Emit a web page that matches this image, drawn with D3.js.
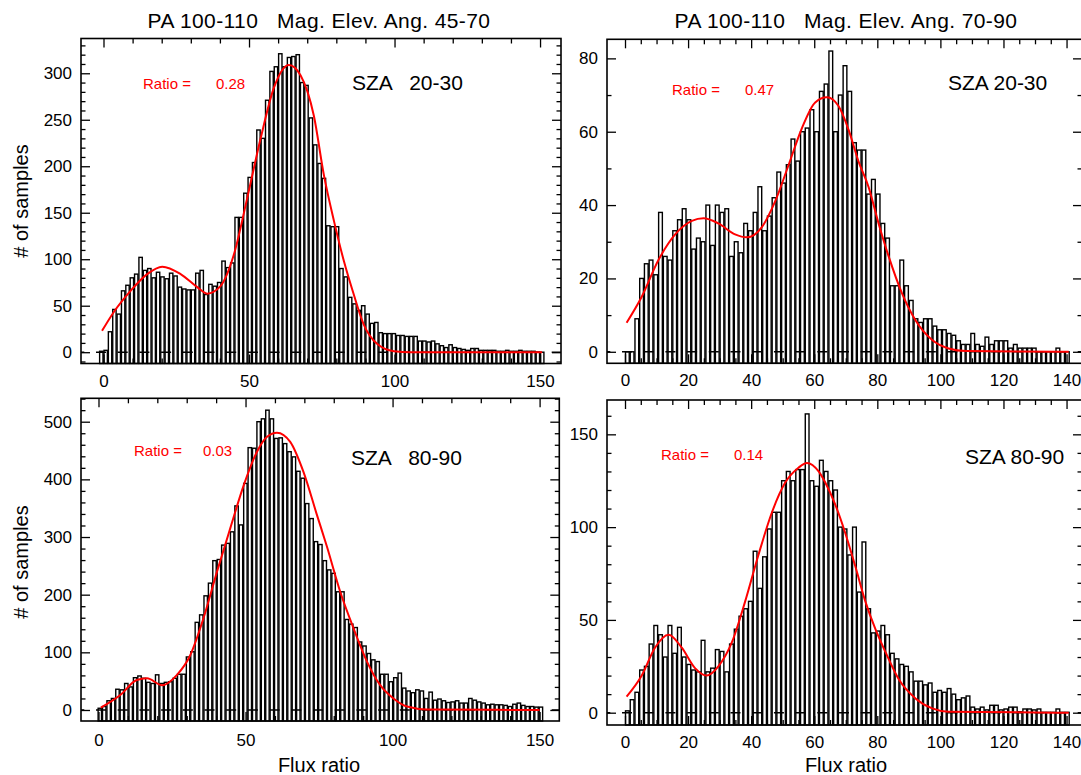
<!DOCTYPE html>
<html>
<head>
<meta charset="utf-8">
<title>Flux ratio histograms</title>
<script src="https://d3js.org/d3.v7.min.js"></script>
<style>
  body { margin: 0; background: #fff; font-family: "Liberation Sans", Arial, Helvetica, sans-serif; }
  .tick text { font-size: 17px; fill: #000; font-family: "Liberation Sans", Arial, sans-serif; }
  .tick line { stroke: #000; stroke-width: 1.3; }
  .bar { fill: #fff; stroke: #000; stroke-width: 1.4; }
  .fit { fill: none; stroke: #f00; stroke-width: 2; }
  .zero { stroke: #000; stroke-width: 1.5; stroke-dasharray: 10, 11.7; }
  .frame { fill: none; stroke: #000; stroke-width: 1.6; }
</style>
</head>
<body>
<svg id="chart" width="1081" height="775"></svg>
<script>
// histogram bin width (flux ratio units)
var binWidth = 1.5;

// top-left: PA 100-110, Mag. Elev. Ang. 45-70, SZA 20-30
var tlStart = -1.5;
var tlCounts = [1, 2, 22, 46, 41, 66, 72, 80, 84, 102,
  88, 90, 80, 86, 81, 79, 85, 82, 70, 68,
  67, 67, 85, 88, 62, 73, 71, 75, 98, 91,
  96, 145, 145, 171, 188, 204, 239, 230, 271, 302,
  307, 321, 307, 317, 318, 320, 290, 287, 252, 223,
  203, 187, 136, 135, 135, 90, 81, 59, 52, 45,
  50, 41, 31, 32, 21, 20, 20, 20, 18, 18,
  17, 17, 17, 12, 12, 11, 12, 9, 7, 5,
  8, 5, 4, 3, 2, 4, 4, 2, 2, 2,
  2, 1, 1, 2, 1, 1, 2, 1, 1, 1,
  0, 0];
var tlFitX = [-0.5, 3.5, 9.3, 15, 20.2, 26.5, 32.2, 35.6, 40.2, 44.8, 49.4, 54, 58.5, 63.7, 67.7, 72.3, 75.7, 79.2, 82.6, 86, 89.4, 94, 99.8, 105.5, 150.7];
var tlFitY = [23, 43, 66, 84, 92, 84, 70, 63, 71, 105, 166, 230, 284, 309, 298, 254, 191, 141, 98, 62, 30, 9, 1, 0, 0];

// top-right: Mag. Elev. Ang. 70-90, SZA 20-30
var trStart = 0;
var trCounts = [0, 0, 9, 20, 24, 25, 21, 38, 26, 25,
  33, 36, 39, 36, 28, 31, 30, 40, 29, 40,
  38, 39, 26, 30, 27, 35, 33, 38, 45, 33,
  37, 42, 49, 46, 51, 58, 52, 60, 61, 66,
  60, 71, 73, 82, 60, 70, 78, 71, 57, 55,
  55, 43, 47, 43, 35, 31, 18, 18, 25, 18,
  14, 9, 8, 9, 9, 7, 6, 6, 5, 4.5,
  3, 2, 2, 5, 2, 1.5, 4, 2, 3, 3,
  3, 1, 2, 1, 1, 1, 1, 0, 0, 0,
  0, 1, 0, 0];
var trFitX = [0.5, 5.3, 10.6, 15.9, 21.2, 24.9, 29.6, 34.9, 38.6, 43.4, 47.6, 51.9, 56.1, 60.3, 64, 67.7, 70.9, 74, 77.2, 80.4, 83.6, 87.8, 92.1, 97.4, 102.6, 108, 140.7];
var trFitY = [7.9, 15, 25, 32, 35.7, 36.4, 35, 32, 31.2, 34, 41, 51, 61, 68, 69.4, 67, 60.5, 52, 45, 35, 26, 16, 8.6, 3.2, 0.9, 0.2, 0];

// bottom-left: Mag. Elev. Ang. 45-70, SZA 80-90
var blStart = -0.3;
var blCounts = [3, 6, 16, 20, 36, 35, 46, 40, 56, 59,
  55, 48, 46, 61, 46, 48, 49, 55, 62, 62,
  92, 101, 152, 165, 198, 220, 259, 261, 286, 289,
  309, 354, 321, 393, 455, 454, 500, 505, 520, 505,
  471, 472, 462, 448, 439, 414, 402, 358, 332, 292,
  287, 259, 243, 237, 205, 205, 157, 149, 143, 118,
  111, 98, 87, 84, 62, 62, 49, 56, 64, 38,
  33, 30, 35, 33, 20, 31, 17, 19, 16, 13,
  14, 16, 12, 12, 20, 17, 14, 12, 9, 10,
  9, 9, 8, 6, 10, 12, 8, 6, 6, 5,
  5];
var blFitX = [0.8, 7.4, 13, 16.5, 21.6, 26.7, 31.2, 35.7, 40.3, 44.8, 49.4, 53.9, 57.3, 60.7, 65.2, 69.7, 74.3, 77.7, 82.2, 86.7, 91.3, 95.8, 100.3, 104.9, 111.7, 150];
var blFitY = [4, 26, 52, 55, 43, 61, 95, 159, 240, 315, 390, 448, 474, 481, 465, 413, 338, 283, 205, 142, 84, 43, 20, 6, 1, 0];

// bottom-right: Mag. Elev. Ang. 70-90, SZA 80-90
var brStart = 0;
var brCounts = [1, 7, 11, 23, 25, 37, 47, 42, 30, 47,
  32, 46, 30, 26, 23, 22, 39, 22, 24, 34,
  33, 22, 37, 45, 52, 56, 60, 87, 67, 84,
  99, 108, 108, 125, 130, 125, 131, 131, 161, 125,
  122, 136, 130, 125, 120, 100, 99, 85, 100, 65,
  92, 56, 43, 44, 47, 42, 32, 29, 26, 25,
  22, 17, 17, 15, 16, 11, 12, 11, 13, 10,
  7, 8, 9, 3, 2, 3, 1.5, 4, 4, 1.5,
  2, 3, 3, 0.5, 2, 2, 1.5, 2, 0.2, 0.2,
  0.2, 2, 0.2, 0.2];
var brFitX = [0.5, 5.3, 9.5, 13.8, 18, 22.2, 25.9, 29.6, 33.9, 38.1, 42.3, 46.6, 50.8, 55, 57.7, 61.4, 63.5, 66.7, 69.8, 73, 76.2, 79.4, 82.5, 86.8, 92.1, 97.4, 102.6, 140.7];
var brFitY = [8.6, 20, 35, 42, 35, 24, 20, 25, 38, 60, 85, 108, 124, 132, 134.6, 130, 124, 112, 97, 79, 60, 45, 33, 18, 7.7, 2.3, 0.5, 0];

var titles = ["PA 100-110   Mag. Elev. Ang. 45-70", "PA 100-110   Mag. Elev. Ang. 70-90"];
var ratios = ["0.28", "0.47", "0.03", "0.14"];
var szaLabels = ["SZA   20-30", "SZA 20-30", "SZA   80-90", "SZA 80-90"];

// layout of the four plot windows
var panels = [
  { counts: tlCounts, start: tlStart, fitX: tlFitX, fitY: tlFitY,
    box: [81, 38.5, 561, 363.5], xDom: [-7.73, 157.2], yDom: [-12.15, 337.4],
    xMajor: 50, xMinor: 10, xMax: 150, yMajor: 50, yMinor: 10, yMax: 330,
    ratio: ratios[0], ratioAt: [143, 216, 89], sza: szaLabels[0], szaAt: [352, 90], xPad: 11 },
  { counts: trCounts, start: trStart, fitX: trFitX, fitY: trFitY,
    box: [607, 39.3, 1082, 363.3], xDom: [-5.71, 144.9], yDom: [-3.14, 85.2],
    xMajor: 20, xMinor: 5, xMax: 145, yMajor: 20, yMinor: 10, yMax: 85,
    ratio: ratios[1], ratioAt: [672, 745, 95], sza: szaLabels[1], szaAt: [948, 90], xPad: 11 },
  { counts: blCounts, start: blStart, fitX: blFitX, fitY: blFitY,
    box: [81, 398.3, 559.3, 721], xDom: [-5.95, 156.7], yDom: [-19.1, 540.6],
    xMajor: 50, xMinor: 10, xMax: 150, yMajor: 100, yMinor: 20, yMax: 540,
    ratio: ratios[2], ratioAt: [134, 203, 456], sza: szaLabels[2], szaAt: [351, 465], xPad: 13 },
  { counts: brCounts, start: brStart, fitX: brFitX, fitY: brFitY,
    box: [607, 400, 1082, 725], xDom: [-5.71, 144.9], yDom: [-6.63, 168.5],
    xMajor: 20, xMinor: 5, xMax: 145, yMajor: 50, yMinor: 10, yMax: 165,
    ratio: ratios[3], ratioAt: [661, 734, 460], sza: szaLabels[3], szaAt: [965, 464], xPad: 11 }
];

var svg = d3.select("#chart");

function stepValues(step, lo, hi) {
  return d3.range(Math.ceil(lo / step) * step, hi + 0.001, step);
}

panels.forEach(function(p) {
  var x = d3.scaleLinear().domain(p.xDom).range([p.box[0], p.box[2]]);
  var y = d3.scaleLinear().domain(p.yDom).range([p.box[3], p.box[1]]);
  var g = svg.append("g");
  var binPx = x(binWidth) - x(0);

  // bars rise from the bottom of the window
  g.selectAll(".bar")
    .data(p.counts)
    .enter().append("rect")
    .attr("class", "bar")
    .attr("x", function(d, i) { return x(p.start + i * binWidth) + 0.5; })
    .attr("width", binPx - 1)
    .attr("y", function(d) { return y(d); })
    .attr("height", function(d) { return p.box[3] - y(d); });

  // dashed zero level
  g.append("line")
    .attr("class", "zero")
    .attr("x1", p.box[0]).attr("x2", p.box[2])
    .attr("y1", y(0)).attr("y2", y(0))
    .attr("stroke-dashoffset", 6.7);

  // fitted curve
  var pts = p.fitX.map(function(v, i) { return [v, p.fitY[i]]; });
  g.append("path")
    .attr("class", "fit")
    .attr("d", d3.line()
      .x(function(d) { return x(d[0]); })
      .y(function(d) { return y(d[1]); })
      .curve(d3.curveMonotoneX)(pts));

  // axes, ticks pointing inward
  var xMaj = stepValues(p.xMajor, 0, p.xMax);
  var xMin = stepValues(p.xMinor, 0, p.xMax).filter(function(v) { return v % p.xMajor !== 0; });
  var yMaj = stepValues(p.yMajor, 0, p.yMax);
  var yMin = stepValues(p.yMinor, p.yDom[0], p.yMax).filter(function(v) { return v % p.yMajor !== 0; });

  function put(axis, tx, ty, labels) {
    var a = g.append("g").attr("transform", "translate(" + tx + "," + ty + ")").call(axis);
    a.select(".domain").remove();
    if (!labels) a.selectAll("text").remove();
    return a;
  }
  put(d3.axisBottom(x).tickValues(xMaj).tickSize(-9).tickPadding(p.xPad).tickFormat(d3.format("d")), 0, p.box[3], true);
  put(d3.axisBottom(x).tickValues(xMin).tickSize(-5), 0, p.box[3], false);
  put(d3.axisTop(x).tickValues(xMaj).tickSize(-9), 0, p.box[1], false);
  put(d3.axisTop(x).tickValues(xMin).tickSize(-5), 0, p.box[1], false);
  put(d3.axisLeft(y).tickValues(yMaj).tickSize(-9).tickPadding(9).tickFormat(d3.format("d")), p.box[0], 0, true);
  put(d3.axisLeft(y).tickValues(yMin).tickSize(-4.5), p.box[0], 0, false);
  put(d3.axisRight(y).tickValues(yMaj).tickSize(-9), p.box[2], 0, false);
  put(d3.axisRight(y).tickValues(yMin).tickSize(-4.5), p.box[2], 0, false);

  g.append("rect")
    .attr("class", "frame")
    .attr("x", p.box[0]).attr("y", p.box[1])
    .attr("width", p.box[2] - p.box[0]).attr("height", p.box[3] - p.box[1]);

  // annotations
  g.append("text")
    .attr("x", p.ratioAt[0]).attr("y", p.ratioAt[2])
    .style("font-size", "15px").style("fill", "#f00")
    .text("Ratio =");
  g.append("text")
    .attr("x", p.ratioAt[1]).attr("y", p.ratioAt[2])
    .style("font-size", "15px").style("fill", "#f00")
    .text(p.ratio);
  g.append("text")
    .attr("x", p.szaAt[0]).attr("y", p.szaAt[1])
    .style("white-space", "pre")
    .style("font-size", "21px")
    .text(p.sza);
});

// column titles
[[319, titles[0]], [846, titles[1]]].forEach(function(t) {
  svg.append("text")
    .attr("x", t[0]).attr("y", 28)
    .attr("text-anchor", "middle")
    .style("white-space", "pre")
    .style("font-size", "21px")
    .style("letter-spacing", "0.4px")
    .text(t[1]);
});

// axis titles
[201, 562].forEach(function(cy) {
  svg.append("text")
    .attr("transform", "translate(28," + cy + ") rotate(-90)")
    .attr("text-anchor", "middle")
    .style("font-size", "20px")
    .text("# of samples");
});
[319, 846].forEach(function(cx) {
  svg.append("text")
    .attr("x", cx).attr("y", 772)
    .attr("text-anchor", "middle")
    .style("font-size", "20px")
    .text("Flux ratio");
});
</script>
</body>
</html>
